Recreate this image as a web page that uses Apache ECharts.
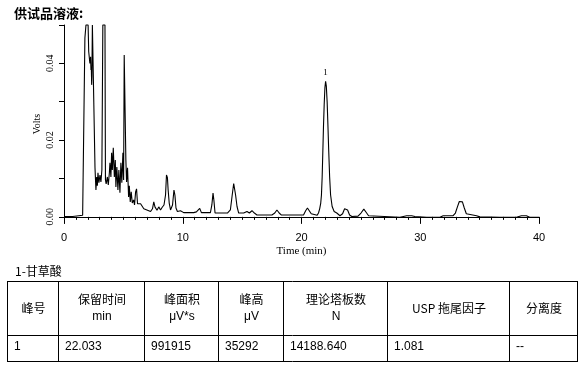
<!DOCTYPE html>
<html>
<head>
<meta charset="utf-8">
<script src="https://cdn.jsdelivr.net/npm/echarts@6/dist/echarts.min.js"></script>
<style>
html,body{margin:0;padding:0;background:#fff;}
#chart{width:586px;height:371px;}
</style>
</head>
<body>
<div id="chart"></div>
<script>
// ---------- data ----------
const titleText = '供试品溶液:';
const xName = 'Time (min)';
const yName = 'Volts';
const xTickLabels = [0, 10, 20, 30, 40];
const yTickValues = [0, 0.01, 0.02, 0.03, 0.04, 0.05];
const yLabelValues = [0, 0.02, 0.04];
const peakLabel = '1';
const peakTime = 22.03;
const peakVolts = 0.0353;

// chromatogram (min, V); off-scale peaks saturate at 0.05
const times = [0, 0.73, 1.24, 1.57, 1.72, 1.76, 1.85, 2.03, 2.08, 2.13, 2.18, 2.24, 2.27, 2.30, 2.33, 2.35, 2.39, 2.55, 2.61, 2.69, 2.75, 2.81, 2.86, 2.94, 3.03, 3.11, 3.19, 3.27, 3.45, 3.49, 3.55, 3.65, 3.73, 3.82, 3.87, 3.95, 4.01, 4.07, 4.15, 4.24, 4.32, 4.37, 4.45, 4.54, 4.62, 4.71, 4.79, 4.87, 4.96, 5.02, 5.07, 5.14, 5.21, 5.27, 5.35, 5.44, 5.50, 5.58, 5.66, 5.75, 5.86, 5.94, 6.03, 6.11, 6.19, 6.32, 6.45, 6.59, 6.72, 6.87, 7.29, 7.45, 7.56, 7.66, 7.83, 7.98, 8.13, 8.27, 8.42, 8.55, 8.63, 8.71, 8.77, 8.86, 8.97, 9.14, 9.26, 9.34, 9.43, 9.55, 9.81, 9.95, 10.08, 10.92, 11.15, 11.43, 11.57, 12.33, 12.45, 12.55, 12.62, 12.72, 13.76, 14.01, 14.15, 14.29, 14.37, 14.45, 14.57, 14.71, 15.13, 15.41, 15.61, 15.83, 16.03, 16.25, 17.51, 17.75, 17.93, 18.12, 18.29, 20.17, 20.35, 20.50, 20.65, 20.82, 20.98, 21.32, 21.43, 21.53, 21.62, 21.68, 21.74, 21.80, 21.85, 21.91, 21.97, 22.03, 22.09, 22.16, 22.23, 22.29, 22.37, 22.45, 22.58, 22.75, 22.97, 23.24, 23.46, 23.63, 23.75, 23.88, 24.05, 24.24, 24.76, 25.01, 25.25, 25.44, 25.65, 25.77, 28.29, 28.86, 29.28, 29.55, 30.54, 31.66, 31.93, 32.77, 32.96, 33.13, 33.29, 33.42, 33.55, 33.71, 33.88, 34.03, 34.74, 35.02, 36.70, 38.10, 38.52, 38.94, 39.22, 40.0];
const volts = [0.0001, 0.0001, 0.0003, 0.0004, 0.0005, 0.0466, 0.05, 0.05, 0.0431, 0.0426, 0.0400, 0.0417, 0.0383, 0.0391, 0.0344, 0.0365, 0.05, 0.05, 0.0128, 0.0070, 0.0104, 0.0081, 0.0115, 0.0089, 0.0109, 0.0091, 0.0122, 0.05, 0.05, 0.0096, 0.0086, 0.0104, 0.0083, 0.0115, 0.0141, 0.0104, 0.0167, 0.0122, 0.0180, 0.0104, 0.0148, 0.0078, 0.0130, 0.0070, 0.0122, 0.0063, 0.0141, 0.0089, 0.0167, 0.0096, 0.0422, 0.0417, 0.0148, 0.0091, 0.0128, 0.0052, 0.0081, 0.0039, 0.0065, 0.0036, 0.0044, 0.0031, 0.0065, 0.0073, 0.0034, 0.0029, 0.0034, 0.0036, 0.0021, 0.0016, 0.0014, 0.0021, 0.0039, 0.0026, 0.0017, 0.0026, 0.0018, 0.0025, 0.0031, 0.0057, 0.0109, 0.0102, 0.0070, 0.0036, 0.0018, 0.0031, 0.0070, 0.0057, 0.0023, 0.0014, 0.0016, 0.0018, 0.0011, 0.0011, 0.0013, 0.0022, 0.0011, 0.0011, 0.0031, 0.0062, 0.0044, 0.0010, 0.0010, 0.0018, 0.0053, 0.0087, 0.0089, 0.0057, 0.0027, 0.0010, 0.0010, 0.0014, 0.0010, 0.0016, 0.0010, 0.0005, 0.0005, 0.0010, 0.0018, 0.0010, 0.0005, 0.0005, 0.0016, 0.0023, 0.0018, 0.0008, 0.0004, 0.0004, 0.0010, 0.0021, 0.0036, 0.0057, 0.0104, 0.0174, 0.0234, 0.0292, 0.0336, 0.0353, 0.0341, 0.0299, 0.0234, 0.0174, 0.0104, 0.0057, 0.0027, 0.0014, 0.0010, 0.0003, 0.0008, 0.0021, 0.0025, 0.0018, 0.0005, 0.0001, 0.0002, 0.0010, 0.0020, 0.0012, 0.0003, 0.0001, -0.0001, 0.0003, 0.0003, 0.0001, -0.0001, -0.0001, 0.0003, 0.0003, 0.0010, 0.0026, 0.0040, 0.0043, 0.0039, 0.0023, 0.0008, 0.0003, 0.0003, 0.0000, -0.0001, -0.0001, 0.0003, 0.0003, -0.0001, -0.0001];

// result table
const tableCaption = '1-甘草酸';
const tableHeaders = ['峰号', '保留时间', '峰面积', '峰高', '理论塔板数', 'USP 拖尾因子', '分离度'];
const tableUnits = ['', 'min', 'μV*s', 'μV', 'N', '', ''];
const tableRow = ['1', '22.033', '991915', '35292', '14188.640', '1.081', '--'];

// ---------- layout ----------
const colEdges = [7, 58, 144, 218, 283, 387, 509, 577];
const rowEdges = [281, 335, 361];
const cjk = '"Noto Sans CJK SC", "Liberation Sans", sans-serif';
const latin = '"Liberation Sans", Arial, sans-serif';
const serif = '"Liberation Serif", "Times New Roman", serif';

const graphics = [];
graphics.push({ type: 'text', x: 14, y: 13, style: { text: titleText, font: 'bold 13px ' + cjk, fill: '#000', verticalAlign: 'middle' } });
graphics.push({ type: 'text', x: 15, y: 271, style: { text: tableCaption, font: '12px ' + cjk, fill: '#000', verticalAlign: 'middle' } });
rowEdges.forEach(function (y) {
  graphics.push({ type: 'line', shape: { x1: colEdges[0], y1: y + 0.5, x2: colEdges[colEdges.length - 1] + 1, y2: y + 0.5 }, style: { stroke: '#000', lineWidth: 1 } });
});
colEdges.forEach(function (x) {
  graphics.push({ type: 'line', shape: { x1: x + 0.5, y1: rowEdges[0], x2: x + 0.5, y2: rowEdges[2] + 1 }, style: { stroke: '#000', lineWidth: 1 } });
});
tableHeaders.forEach(function (h, i) {
  const cx = (colEdges[i] + colEdges[i + 1]) / 2 + 1;
  if (tableUnits[i]) {
    graphics.push({ type: 'text', x: cx, y: 299, style: { text: h, font: '12px ' + cjk, fill: '#000', align: 'center', verticalAlign: 'middle' } });
    graphics.push({ type: 'text', x: cx, y: 317, style: { text: tableUnits[i], font: '12px ' + latin, fill: '#000', align: 'center', verticalAlign: 'middle' } });
  } else {
    graphics.push({ type: 'text', x: cx, y: 308, style: { text: h, font: '12px ' + cjk, fill: '#000', align: 'center', verticalAlign: 'middle' } });
  }
});
tableRow.forEach(function (v, i) {
  graphics.push({ type: 'text', x: colEdges[i] + 7, y: 347, style: { text: v, font: '12px ' + latin, fill: '#000', verticalAlign: 'middle' } });
});

const chart = echarts.init(document.getElementById('chart'), null, { renderer: 'canvas' });
chart.setOption({
  animation: false,
  backgroundColor: '#fff',
  grid: { left: 64, right: 47, top: 25, bottom: 148, containLabel: false },
  xAxis: {
    type: 'value', min: xTickLabels[0], max: xTickLabels[xTickLabels.length - 1], interval: 10,
    name: xName, nameLocation: 'middle', nameGap: 23, nameMoveOverlap: false,
    nameTextStyle: { fontFamily: serif, fontSize: 11, color: '#000' },
    axisLine: { lineStyle: { color: '#000', width: 1 } },
    axisTick: { show: true, length: 7, inside: false, lineStyle: { color: '#000' } },
    minorTick: { show: true, splitNumber: 10, length: 3, lineStyle: { color: '#000' } },
    axisLabel: { fontFamily: latin, fontSize: 11, color: '#000', margin: 9 },
    splitLine: { show: false }, minorSplitLine: { show: false }
  },
  yAxis: {
    type: 'value', min: -0.0016, max: 0.05,
    name: yName, nameLocation: 'middle', nameGap: 22, nameRotate: 90, nameMoveOverlap: false,
    nameTextStyle: { fontFamily: serif, fontSize: 10, color: '#000' },
    axisLine: { show: true, lineStyle: { color: '#000', width: 1 } },
    axisTick: { show: true, length: 5, inside: false, customValues: yTickValues, lineStyle: { color: '#000' } },
    axisLabel: { customValues: yLabelValues, rotate: 90, fontFamily: serif, fontSize: 10, color: '#000', margin: 9,
      formatter: function (v) { return v.toFixed(2); } },
    splitLine: { show: false }
  },
  series: [{
    type: 'line',
    data: times.map(function (t, i) { return [t, volts[i]]; }),
    showSymbol: false, symbol: 'none', clip: false,
    lineStyle: { color: '#000', width: 1.1 },
    markPoint: {
      symbol: 'circle', symbolSize: 0, silent: true,
      data: [{ coord: [peakTime, peakVolts], value: peakLabel }],
      label: { show: true, position: 'top', distance: 4, formatter: peakLabel, fontFamily: serif, fontSize: 9, color: '#000' }
    }
  }],
  graphic: graphics
});
</script>
</body>
</html>
